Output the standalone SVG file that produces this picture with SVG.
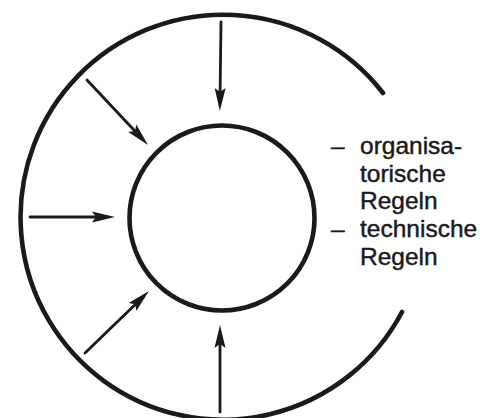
<svg xmlns="http://www.w3.org/2000/svg" width="495" height="418" viewBox="0 0 495 418">
  <style>
    .ring { fill: none; stroke: #1a1a1a; stroke-width: 4.6; stroke-linecap: round; }
    .arrow { fill: none; stroke: #1a1a1a; stroke-width: 2.8; stroke-linecap: round; marker-end: url(#head); }
    .label { font-family: "Liberation Sans", Arial, sans-serif; font-size: 24.5px; fill: #1a1a1a; stroke: #1a1a1a; stroke-width: 0.45; }
  </style>
  <defs>
    <marker id="head" markerUnits="userSpaceOnUse" viewBox="-14 -8 28 16" refX="0" refY="0" markerWidth="28" markerHeight="16" orient="auto" overflow="visible">
      <path d="M12,0 L-11,-5.5 L-7,0 L-11,5.5 Z" fill="#1a1a1a"/>
    </marker>
  </defs>
  <rect width="495" height="418" fill="#ffffff"/>
  <g id="outer-ring">
    <path class="ring" d="M383,93 A202.5,202.5 0 1,0 402,312"/>
  </g>
  <g id="inner-circle">
    <circle class="ring" cx="222" cy="218" r="92.5"/>
  </g>
  <g id="connectors">
    <line class="arrow" x1="221" y1="22" x2="220" y2="99"/>
    <line class="arrow" x1="87" y1="80" x2="139.8" y2="136.2"/>
    <line class="arrow" x1="30" y1="217" x2="103" y2="217"/>
    <line class="arrow" x1="85" y1="353" x2="140.4" y2="299.4"/>
    <line class="arrow" x1="220" y1="412" x2="220" y2="337"/>
  </g>
  <g id="rules-label">
    <text class="label" x="331" y="154">–</text>
    <text class="label" x="360" y="154">organisa-</text>
    <text class="label" x="360" y="182">torische</text>
    <text class="label" x="360" y="209">Regeln</text>
    <text class="label" x="331" y="237">–</text>
    <text class="label" x="360" y="237">technische</text>
    <text class="label" x="360" y="265">Regeln</text>
  </g>
</svg>
